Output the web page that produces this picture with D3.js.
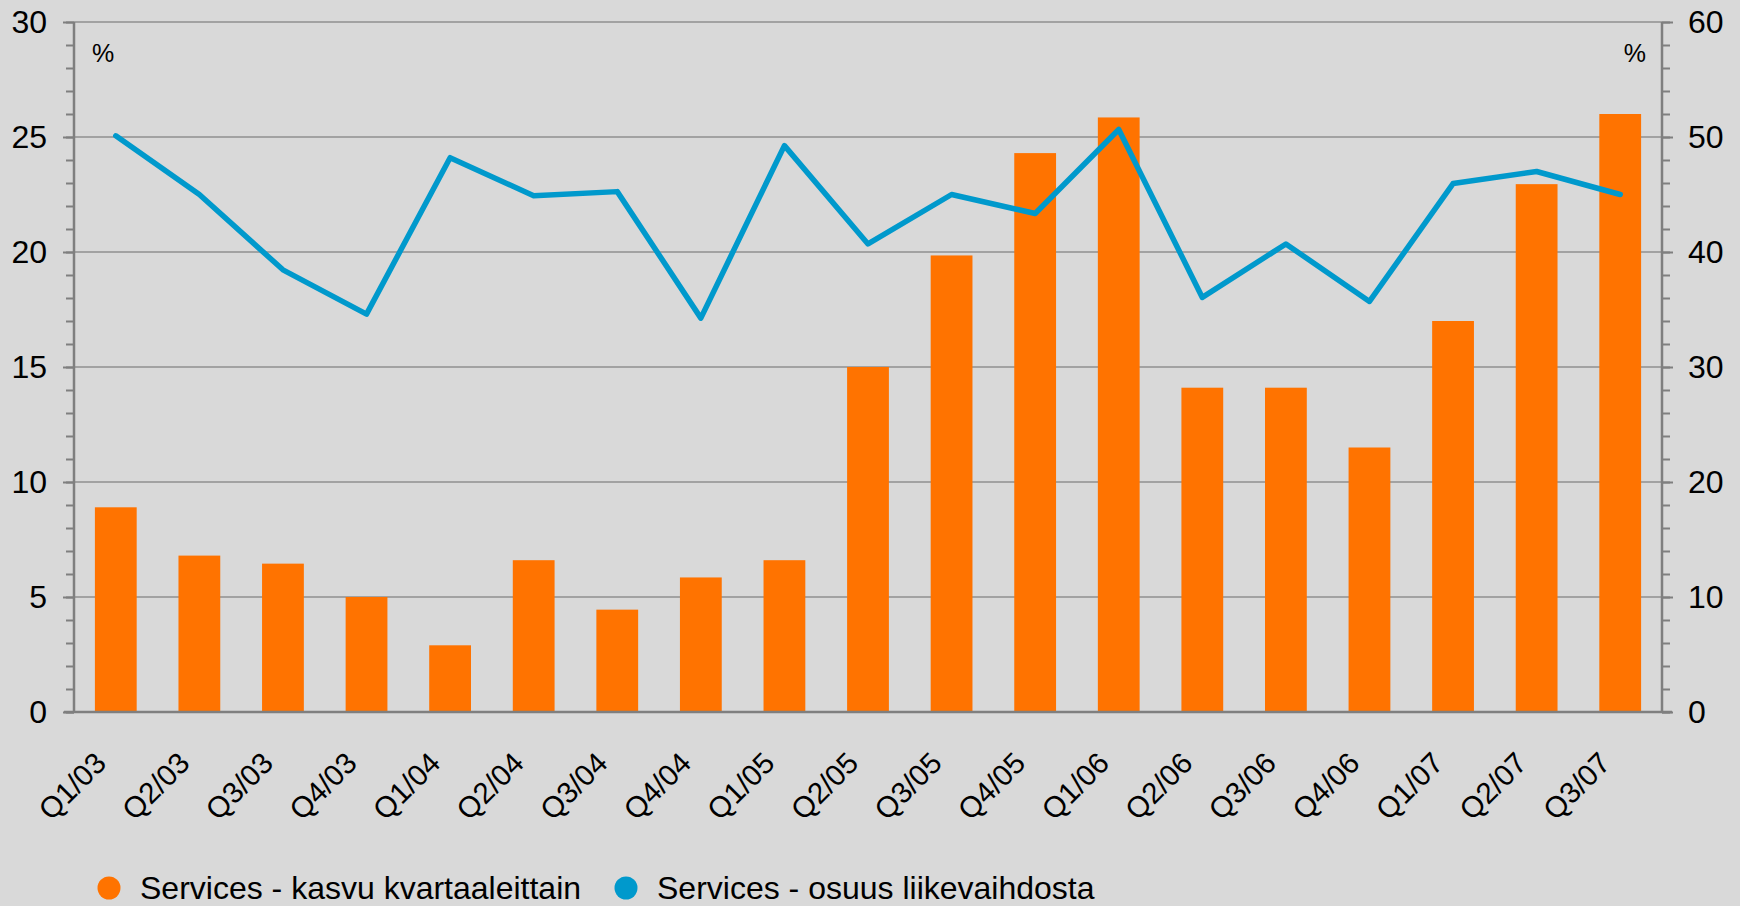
<!DOCTYPE html>
<html>
<head>
<meta charset="utf-8">
<script src="https://cdn.jsdelivr.net/npm/d3@7"></script>
<style>
  body { margin: 0; background: #d9d9d9; }
  svg { display: block; font-family: "Liberation Sans", Arial, sans-serif; }
</style>
</head>
<body>
<script>
"use strict";

// ----------------------------------------
//  Data
// ----------------------------------------
const quarters = ["Q1/03", "Q2/03", "Q3/03", "Q4/03", "Q1/04", "Q2/04", "Q3/04", "Q4/04",
                  "Q1/05", "Q2/05", "Q3/05", "Q4/05", "Q1/06", "Q2/06", "Q3/06", "Q4/06",
                  "Q1/07", "Q2/07", "Q3/07"];
// Services - kasvu kvartaaleittain (left axis, %)
const growth = [8.9, 6.8, 6.45, 5.0, 2.9, 6.6, 4.45, 5.85, 6.6, 15.0, 19.85, 24.3, 25.85,
                14.1, 14.1, 11.5, 17.0, 22.95, 26.0];
// Services - osuus liikevaihdosta (right axis, %)
const share = [50.1, 45.0, 38.45, 34.6, 48.2, 44.9, 45.25, 34.25, 49.25, 40.7, 45.0, 43.35,
               50.65, 36.05, 40.7, 35.7, 45.95, 47.0, 45.0];
const leftTicks = [0, 5, 10, 15, 20, 25, 30];
const rightTicks = [0, 10, 20, 30, 40, 50, 60];
const legendNames = ["Services - kasvu kvartaaleittain", "Services - osuus liikevaihdosta"];

const orange = "#ff7300";
const blue = "#0099cc";

(function(){
    // ----------------------------------------
    //  Sizing
    // ----------------------------------------
    const W = 1740, H = 906;
    const margin = {left: 74, right: 1662, top: 22, bottom: 712};

    const svg = d3.select("body").append("svg")
        .attr("width", W)
        .attr("height", H);

    svg.append("rect").attr("width", W).attr("height", H).attr("fill", "#d9d9d9");

    // ----------------------------------------
    //  Scales
    // ----------------------------------------
    const x = d3.scaleBand()
        .domain(quarters)
        .range([margin.left, margin.right])
        .paddingInner(0.5)
        .paddingOuter(0.25);

    const yL = d3.scaleLinear().domain([0, 30]).range([margin.bottom, margin.top]);
    const yR = d3.scaleLinear().domain([0, 60]).range([margin.bottom, margin.top]);

    // gridlines
    svg.append("g")
        .selectAll("line")
        .data(leftTicks.slice(1))
        .enter().append("line")
        .attr("x1", margin.left).attr("x2", margin.right)
        .attr("y1", d => yL(d)).attr("y2", d => yL(d))
        .attr("stroke", "#8f8f8f")
        .attr("stroke-width", 1.5);

    // bars
    svg.append("g")
        .selectAll("rect")
        .data(quarters)
        .enter().append("rect")
        .attr("x", d => x(d))
        .attr("width", x.bandwidth())
        .attr("y", (d, i) => yL(growth[i]))
        .attr("height", (d, i) => margin.bottom - yL(growth[i]))
        .attr("fill", orange);

    // line
    const line = d3.line()
        .x((d, i) => x(quarters[i]) + x.bandwidth() / 2)
        .y(d => yR(d));

    svg.append("path")
        .datum(share)
        .attr("d", line)
        .attr("fill", "none")
        .attr("stroke", blue)
        .attr("stroke-width", 5.5)
        .attr("stroke-linejoin", "round")
        .attr("stroke-linecap", "round");

    // ----------------------------------------
    //  Axes
    // ----------------------------------------
    function styleAxis(g) {
        g.select(".domain").remove();
        g.selectAll(".tick line").attr("stroke", "#7f7f7f").attr("stroke-width", 2);
        g.selectAll(".tick text").attr("fill", "#000").attr("font-size", 32)
            .attr("font-family", "Liberation Sans, Arial, sans-serif");
    }

    // minor ticks
    svg.append("g")
        .attr("transform", "translate(" + margin.left + ",0)")
        .call(d3.axisLeft(yL).tickValues(d3.range(0, 31)).tickSize(8).tickFormat(""))
        .call(styleAxis);
    svg.append("g")
        .attr("transform", "translate(" + margin.right + ",0)")
        .call(d3.axisRight(yR).tickValues(d3.range(0, 61, 2)).tickSize(8).tickFormat(""))
        .call(styleAxis);

    // major ticks with labels
    svg.append("g")
        .attr("transform", "translate(" + margin.left + ",0)")
        .call(d3.axisLeft(yL).tickValues(leftTicks).tickSize(11).tickPadding(16))
        .call(styleAxis);
    svg.append("g")
        .attr("transform", "translate(" + margin.right + ",0)")
        .call(d3.axisRight(yR).tickValues(rightTicks).tickSize(11).tickPadding(15))
        .call(styleAxis);

    // axis lines
    svg.append("line")
        .attr("x1", margin.left).attr("x2", margin.left).attr("y1", margin.top).attr("y2", margin.bottom + 1)
        .attr("stroke", "#7f7f7f").attr("stroke-width", 2.5);
    svg.append("line")
        .attr("x1", margin.right).attr("x2", margin.right).attr("y1", margin.top).attr("y2", margin.bottom + 1)
        .attr("stroke", "#7f7f7f").attr("stroke-width", 2.5);
    svg.append("line")
        .attr("x1", margin.left - 10).attr("x2", margin.right + 10)
        .attr("y1", margin.bottom).attr("y2", margin.bottom)
        .attr("stroke", "#7f7f7f").attr("stroke-width", 2.5);

    // category labels
    svg.append("g")
        .selectAll("text")
        .data(quarters)
        .enter().append("text")
        .attr("transform", d => "translate(" + (x(d) + x.bandwidth() / 2 - 8) + "," + (margin.bottom + 53) + ") rotate(-45)")
        .attr("text-anchor", "end")
        .attr("font-size", 29.5)
        .attr("fill", "#000")
        .text(d => d);

    // % unit labels
    svg.append("text").attr("x", 92).attr("y", 62).attr("font-size", 25).text("%");
    svg.append("text").attr("x", 1646).attr("y", 62).attr("font-size", 25)
        .attr("text-anchor", "end").text("%");

    // ----------------------------------------
    //  Legend
    // ----------------------------------------
    const legendX = [109, 626];
    const legendColors = [orange, blue];
    const lg = svg.append("g").selectAll("g")
        .data(legendNames)
        .enter().append("g");
    lg.append("circle")
        .attr("cx", (d, i) => legendX[i])
        .attr("cy", 888)
        .attr("r", 11.5)
        .attr("fill", (d, i) => legendColors[i]);
    lg.append("text")
        .attr("x", (d, i) => legendX[i] + 31)
        .attr("y", 899)
        .attr("font-size", 32)
        .attr("fill", "#000")
        .text(d => d);
})();
</script>
</body>
</html>
